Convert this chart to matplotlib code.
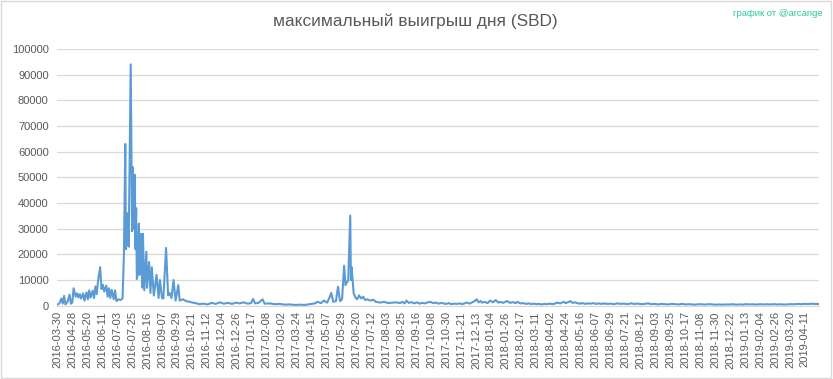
import matplotlib
matplotlib.use("Agg")
from matplotlib import pyplot as plt
from matplotlib.patches import Rectangle

plt.rcParams['font.family'] = ['Liberation Sans', 'DejaVu Sans']

# category index (day number on the chart's category axis) and daily max win, SBD
day_index = [
    0, 3, 6, 8, 10, 12, 15, 18, 20, 22, 24, 27, 29, 31, 33, 35, 38, 40, 43, 45,
    47, 49, 52, 54, 56, 58, 60, 63, 65, 67, 69, 72, 74, 76, 78, 80, 83, 85, 87, 90,
    93, 96, 98, 100, 101, 103, 105, 108, 110, 111, 112, 114, 115, 116, 117, 118, 120, 121, 123, 125,
    126, 128, 131, 132, 135, 137, 139, 142, 146, 149, 151, 154, 156, 160, 163, 165, 168, 171, 174, 178,
    180, 185, 189, 195, 199, 205, 209, 215, 221, 227, 233, 239, 245,
    251, 257, 263, 268, 274, 280, 285, 288, 291, 296, 302, 305, 313, 320, 327, 335, 342, 350,
    357, 364, 372, 379, 383, 388, 392, 397, 401, 403, 406, 410, 413, 416, 419, 422, 424, 428,
    431, 432, 433, 436, 438, 441, 444, 447, 450, 453, 456, 460, 465, 469, 475, 481, 487, 493, 499,
    504, 508, 511, 514, 517, 521, 525, 529, 533, 537, 541, 545, 549, 553, 557, 561, 565, 568,
    572, 576, 580, 584, 588, 592, 596, 600, 603, 607, 611, 614, 617, 620, 623, 625, 629, 633,
    637, 641, 645, 649, 652, 656, 659, 662, 666, 670, 674, 677, 681, 686, 690, 694, 698, 701,
    705, 709, 713, 717, 721, 725, 729, 733, 736, 740, 745, 748, 752, 755, 758, 762, 765, 769,
    773, 777, 781, 785, 789, 793, 797, 801, 804, 809, 814, 819, 824, 829, 834, 839, 844, 849,
    854, 859, 864, 869, 874, 879, 884, 889, 894, 899, 904, 909, 914, 919, 924, 929, 934, 939,
    944, 949, 954, 959, 964, 969, 974, 979, 984, 989, 994, 999, 1004, 1009, 1014, 1019, 1024, 1029,
    1034, 1039, 1044, 1049, 1054, 1059, 1064, 1069, 1074, 1079, 1084, 1089, 1094, 1099, 1104, 1109, 1114, 1120,
]
max_sbd = [
    400, 900, 2800, 800, 3800, 500, 1500, 4300, 800, 1200, 6800, 3500, 4800, 3200, 4500, 2800, 4800, 2000, 5200, 2500,
    6000, 3200, 5800, 3000, 7500, 4500, 9800, 15000, 6500, 8200, 5500, 7800, 3500, 6800, 3000, 6200, 2500, 6000, 1800, 2500,
    2200, 2800, 20000, 63000, 22000, 36000, 23000, 94000, 29000, 54000, 30000, 51000, 22000, 38000, 10400, 12000, 32000, 12000, 28000, 7000,
    28000, 6000, 21000, 7000, 17000, 5000, 15000, 4000, 12000, 3000, 10000, 3000, 2800, 22500, 4000, 5000, 3000, 10000, 2000, 8000,
    2000, 2500, 1800, 1500, 1200, 900, 600, 800, 500, 1100, 700, 1300, 800,
    1100, 700, 1200, 900, 1300, 800, 1000, 2600, 900, 1100, 2500, 800, 900, 600, 700, 400, 500, 300,
    400, 300, 600, 900, 1500, 1000, 2000, 1200, 3500, 5000, 1500, 1800, 7400, 1800, 2500, 15600, 8000, 10000,
    35100, 10000, 15000, 5000, 3500, 2500, 4000, 2800, 3500, 2200, 2500, 2000, 2300, 1500, 1200, 1500, 1000, 1200, 1300,
    1000, 1500, 900, 2000, 1100, 1400, 900, 1300, 800, 1100, 900, 1300, 1500, 1000, 1200, 800, 1100, 900,
    700, 1000, 600, 800, 700, 900, 600, 1000, 1200, 800, 1400, 1800, 2500, 1300, 1800, 1200, 1500, 1000,
    2000, 1300, 2200, 1200, 1500, 1100, 1500, 1800, 1100, 1400, 1000, 1500, 900, 1000, 700, 900, 600, 800,
    600, 700, 500, 700, 600, 800, 600, 900, 1200, 900, 1500, 1000, 1400, 1800, 1100, 1300, 1000, 800,
    1000, 700, 900, 800, 1000, 700, 900, 700, 900, 700, 800, 600, 900, 700, 800, 600, 900, 700,
    800, 600, 700, 900, 600, 700, 500, 700, 600, 500, 700, 600, 500, 700, 500, 600, 500, 400,
    600, 500, 450, 600, 500, 400, 500, 400, 500, 450, 600, 400, 500, 450, 600, 500, 550, 450,
    600, 500, 550, 500, 600, 500, 550, 450, 500, 600, 550, 700, 600, 700, 650, 750, 700, 650,
]

tick_labels = [
    '2016-03-30', '2016-04-28', '2016-05-20', '2016-06-11', '2016-07-03', '2016-07-25',
    '2016-08-16', '2016-09-07', '2016-09-29', '2016-10-21', '2016-11-12', '2016-12-04',
    '2016-12-26', '2017-01-17', '2017-02-08', '2017-03-02', '2017-03-24', '2017-04-15',
    '2017-05-07', '2017-05-29', '2017-06-20', '2017-07-12', '2017-08-03', '2017-08-25',
    '2017-09-16', '2017-10-08', '2017-10-30', '2017-11-21', '2017-12-13', '2018-01-04',
    '2018-01-26', '2018-02-17', '2018-03-11', '2018-04-02', '2018-04-24', '2018-05-16',
    '2018-06-07', '2018-06-29', '2018-07-21', '2018-08-12', '2018-09-03', '2018-09-25',
    '2018-10-17', '2018-11-08', '2018-11-30', '2018-12-22', '2019-01-13', '2019-02-04',
    '2019-02-26', '2019-03-20', '2019-04-11',
]
tick_step = 22
n_days = 1121

fig = plt.figure(figsize=(8.33, 3.79), dpi=100)
ax = fig.add_axes([0.0684, 0.1934, 0.9146, 0.6773])

ax.plot(day_index, max_sbd, color='#5B9BD5', lw=1.5, solid_joinstyle='round')

ax.set_xlim(-0.5, n_days - 0.5)
ax.set_ylim(0, 100000)
ax.set_yticks(range(0, 100001, 10000))
ax.set_xticks([i * tick_step for i in range(len(tick_labels))])
ax.set_xticklabels(tick_labels, rotation=90)
ax.tick_params(axis='both', length=0, labelsize=8, colors='#595959')
ax.tick_params(axis='x', pad=4)
ax.tick_params(axis='y', pad=6)
ax.grid(axis='y', color='#D9D9D9', lw=0.9)
ax.set_axisbelow(True)
for s in ['top', 'right', 'left']:
    ax.spines[s].set_visible(False)
ax.spines['bottom'].set_color('#D9D9D9')

fig.text(0.498, 0.945, 'максимальный выигрыш дня (SBD)', ha='center', va='center',
         fontsize=12.4, color='#595959')
fig.text(0.987, 0.965, 'график от @arcange', ha='right', va='center',
         fontsize=6.8, color='#2CC8A0')

fig.patches.append(Rectangle((0.001, 0.002), 0.997, 0.995, transform=fig.transFigure,
                             fill=False, edgecolor='#D9D9D9', lw=1))

fig.savefig('out.png', dpi=100)
